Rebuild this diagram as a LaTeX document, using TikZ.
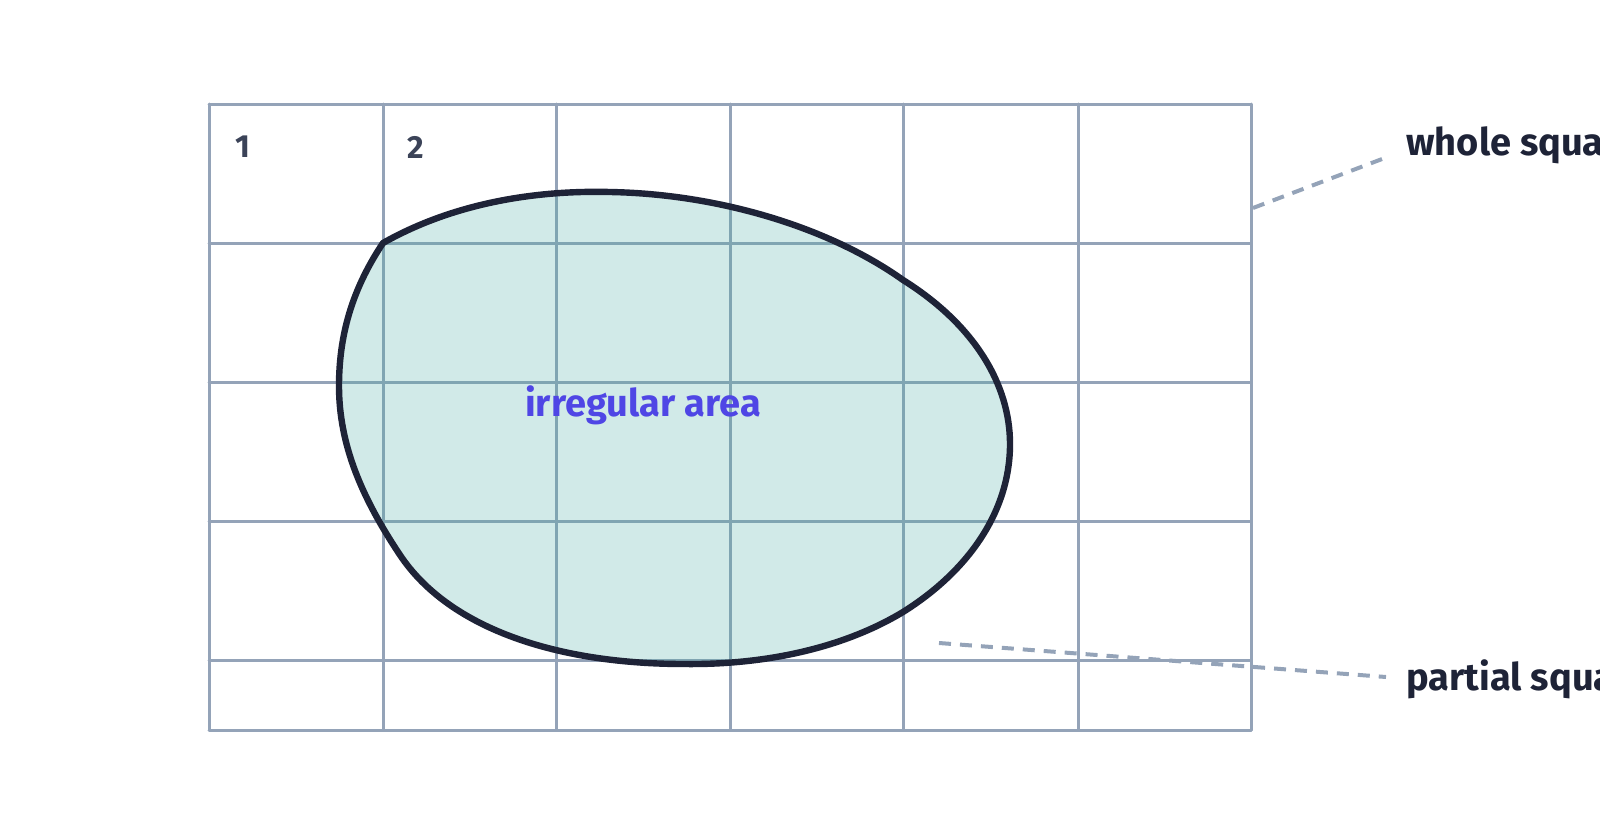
\documentclass[tikz,border=0pt]{standalone}
\usepackage{fontspec}
\setmainfont{Fira Sans}
\definecolor{gridc}{RGB}{148,163,184}
\definecolor{blobfill}{RGB}{71,171,163}
\definecolor{blobline}{RGB}{30,35,55}
\definecolor{labc}{RGB}{30,35,55}
\definecolor{numc}{RGB}{59,67,88}
\definecolor{areac}{RGB}{79,70,229}
\tikzset{
  gridline/.style={draw=gridc, line width=1.5pt, line cap=round},
  blob/.style={draw=blobline, line width=3.2pt, line join=round, fill=blobfill, fill opacity=0.25, draw opacity=1},
  leader/.style={draw=gridc, line width=2pt, dash pattern=on 6pt off 4.5pt},
  lab/.style={font=\fontsize{19pt}{22pt}\selectfont\bfseries, text=labc, inner sep=0pt},
  num/.style={font=\fontsize{16pt}{19pt}\selectfont\bfseries, text=numc, inner sep=0pt},
  arealab/.style={font=\fontsize{19pt}{22pt}\selectfont\bfseries, text=areac, inner sep=0pt}
}
\begin{document}
\begin{tikzpicture}[x=0.5pt,y=-0.5pt]
\useasboundingbox (0,0) rectangle (1600,835);
% grid
\foreach \x in {209,383,556,730,903,1078,1251} {
  \draw[gridline] (\x,104) -- (\x,730);
}
\foreach \y in {104,243,382,521,660,730} {
  \draw[gridline] (209,\y) -- (1251,\y);
}
% irregular area
\path[blob] (383,243) .. controls (450,205) and (530,190) .. (610,192)
  .. controls (720,194) and (830,228) .. (903,280)
  .. controls (975,325) and (1010,385) .. (1010,444)
  .. controls (1010,510) and (970,570) .. (903,612)
  .. controls (840,650) and (760,665) .. (684,664)
  .. controls (560,664) and (450,630) .. (400,555)
  .. controls (362,498) and (339,445) .. (339,386)
  .. controls (339,330) and (355,285) .. (383,243) -- cycle;
% labels
\node[num] (n1) at (243,147) {1};
\node[num] (n2) at (416,147) {2};
\node[arealab] (area) at (643,405) {irregular area};
\node[lab, anchor=west] (whole) at (1406,145) {whole square};
\node[lab, anchor=west] (partial) at (1406,679) {partial square};
% leaders
\coordinate (w1) at (1253,208);
\coordinate (w2) at (1390,156);
\coordinate (p1) at (939,643);
\coordinate (p2) at (1386,677);
\draw[leader] (w1) -- (w2);
\draw[leader] (p1) -- (p2);
\end{tikzpicture}
\end{document}
